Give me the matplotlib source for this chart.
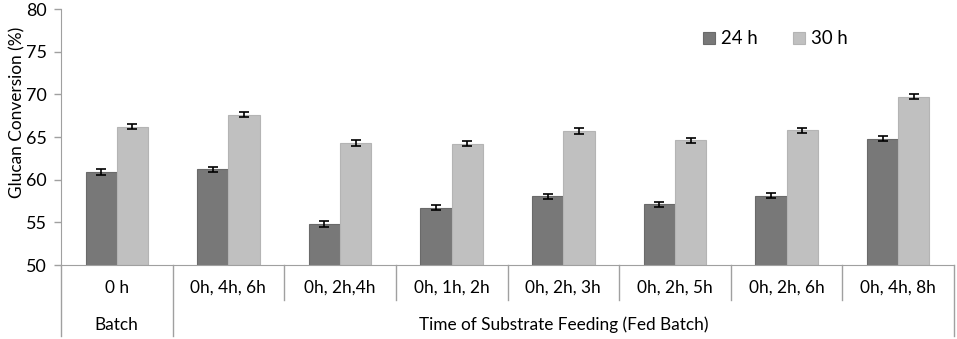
import matplotlib.pyplot as plt
import matplotlib.transforms as mtransforms
import numpy as np

plt.rcParams['font.family'] = ['Lato', 'DejaVu Sans']

# datos
categorias = ['0 h', '0h, 4h, 6h', '0h, 2h,4h', '0h, 1h, 2h',
              '0h, 2h, 3h', '0h, 2h, 5h', '0h, 2h, 6h', '0h, 4h, 8h']
conv_24h = [60.9, 61.2, 54.8, 56.7, 58.05, 57.1, 58.1, 64.8]
conv_30h = [66.2, 67.6, 64.3, 64.2, 65.7, 64.6, 65.8, 69.7]
err_24h = [0.3, 0.3, 0.3, 0.3, 0.3, 0.3, 0.3, 0.3]
err_30h = [0.3, 0.3, 0.3, 0.3, 0.3, 0.3, 0.3, 0.3]
grupos = ['Batch', 'Time of Substrate Feeding (Fed Batch)']

W, H = 957, 339
fs = 12.4
fig = plt.figure(figsize=(W / 100, H / 100), dpi=100)
ax = fig.add_axes([61 / W, (H - 265) / H, (954 - 61) / W, 256 / H])

x = np.arange(len(categorias))
ancho = 0.28
err_kw = dict(ecolor='black', capsize=3.5, elinewidth=1.2, capthick=1.2)
ax.bar(x - ancho / 2, np.array(conv_24h) - 50, ancho, bottom=50, color='#787878',
       edgecolor='#6a6a6a', linewidth=0.8, yerr=err_24h, error_kw=err_kw, label='24 h')
ax.bar(x + ancho / 2, np.array(conv_30h) - 50, ancho, bottom=50, color='#c0c0c0',
       edgecolor='#b4b4b4', linewidth=0.8, yerr=err_30h, error_kw=err_kw, label='30 h')

ax.set_xlim(-0.5, len(categorias) - 0.5)
ax.set_ylim(50, 80)
ax.set_yticks(range(50, 81, 5))
ax.tick_params(axis='y', labelsize=fs + 0.5, length=5, color='#a0a0a0', width=1, pad=5)
ax.set_xticks([])
for s in ['top', 'right']:
    ax.spines[s].set_visible(False)
ax.spines['left'].set_color('#a0a0a0')
ax.spines['bottom'].set_color('#a0a0a0')

# caja de categorias debajo del eje
trans = mtransforms.blended_transform_factory(ax.transData, ax.transAxes)
y1 = -35 / 256
y2 = -71 / 256
for i in range(len(categorias) + 1):
    xb = i - 0.5
    baja = y2 if i in (0, 1, len(categorias)) else y1
    ax.plot([xb, xb], [0, baja], color='#a0a0a0', lw=1, transform=trans, clip_on=False)
for i, c in enumerate(categorias):
    ax.text(i, -23 / 256, c, transform=trans, ha='center', va='center', fontsize=fs)
ax.text(0, -60 / 256, grupos[0], transform=trans, ha='center', va='center', fontsize=fs)
ax.text((len(categorias) - 1 + 1) / 2, -60 / 256, grupos[1], transform=trans,
        ha='center', va='center', fontsize=fs)

fig.text(17 / W, 1 - 112 / H, 'Glucan Conversion (%)', rotation=90, ha='center',
         va='center', fontsize=fs)

ax.legend(loc='upper left', bbox_to_anchor=(694 / W, 1 - 21 / H), bbox_transform=fig.transFigure,
          ncol=2, frameon=False, fontsize=fs + 1, handlelength=0.65, handleheight=0.65,
          columnspacing=1.9, handletextpad=0.3, borderpad=0)

fig.savefig('out.png', dpi=100)
